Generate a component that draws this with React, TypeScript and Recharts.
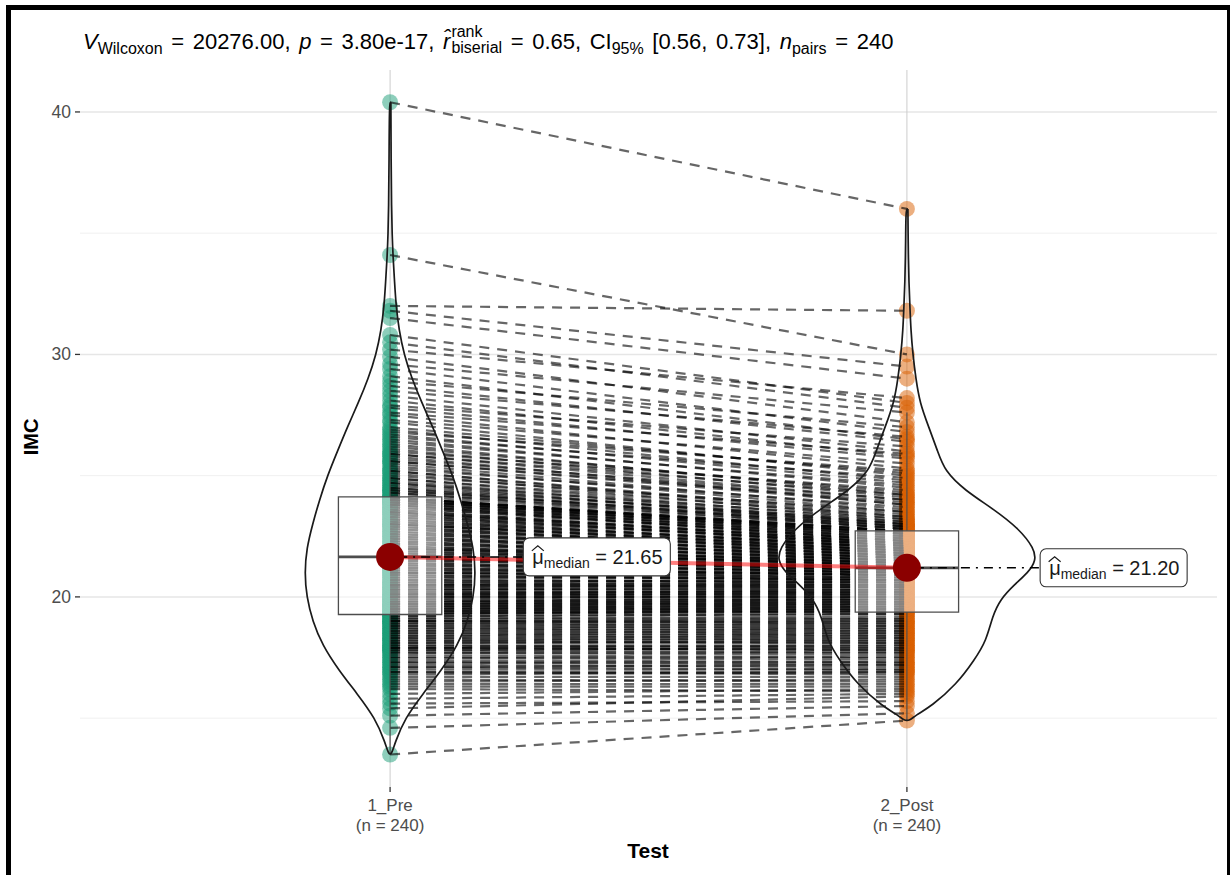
import React from 'react';
import { ComposedChart, Line, Scatter, XAxis, YAxis, CartesianGrid, ReferenceArea } from 'recharts';

const FONT = '"Liberation Sans", Arial, Helvetica, sans-serif';

const groups = ['1_Pre', '2_Post'];
const groupN = ['(n = 240)', '(n = 240)'];
const groupColors = ['#1B9E77', '#D95F02'];

// IMC values, Pre (sorted) and Post (paired with Pre by position)
const preIMC = [
  13.5, 14.6, 15.1, 15.4, 15.6, 15.8, 16.0, 16.2, 16.3, 16.4, 16.5, 16.6, 16.7, 16.8, 16.9, 16.9, 17.0, 17.1, 17.1, 17.2,
  17.3, 17.3, 17.4, 17.5, 17.5, 17.6, 17.7, 17.7, 17.8, 17.8, 17.9, 17.9, 17.9, 18.0, 18.0, 18.1, 18.1, 18.2, 18.2, 18.3,
  18.3, 18.4, 18.4, 18.5, 18.5, 18.6, 18.6, 18.7, 18.7, 18.8, 18.8, 18.9, 18.9, 19.0, 19.0, 19.0, 19.1, 19.1, 19.2, 19.2,
  19.3, 19.3, 19.3, 19.4, 19.4, 19.4, 19.5, 19.5, 19.5, 19.6, 19.6, 19.6, 19.7, 19.7, 19.7, 19.8, 19.8, 19.8, 19.9, 19.9,
  20.0, 20.0, 20.0, 20.1, 20.1, 20.1, 20.2, 20.2, 20.3, 20.3, 20.3, 20.4, 20.4, 20.5, 20.5, 20.5, 20.6, 20.6, 20.7, 20.7,
  20.8, 20.8, 20.9, 20.9, 21.0, 21.0, 21.0, 21.1, 21.1, 21.2, 21.2, 21.3, 21.3, 21.4, 21.4, 21.5, 21.5, 21.6, 21.6, 21.6,
  21.7, 21.7, 21.8, 21.8, 21.9, 21.9, 22.0, 22.0, 22.0, 22.1, 22.1, 22.2, 22.2, 22.3, 22.3, 22.4, 22.4, 22.5, 22.5, 22.6,
  22.6, 22.7, 22.7, 22.8, 22.8, 22.9, 22.9, 23.0, 23.0, 23.0, 23.1, 23.1, 23.2, 23.2, 23.3, 23.3, 23.4, 23.4, 23.5, 23.5,
  23.5, 23.6, 23.6, 23.7, 23.7, 23.8, 23.8, 23.8, 23.9, 23.9, 23.9, 24.0, 24.0, 24.0, 24.0, 24.1, 24.1, 24.1, 24.1, 24.1,
  24.2, 24.3, 24.3, 24.4, 24.4, 24.5, 24.5, 24.6, 24.7, 24.7, 24.8, 24.9, 24.9, 25.0, 25.1, 25.2, 25.2, 25.3, 25.4, 25.5,
  25.6, 25.6, 25.7, 25.8, 25.9, 25.9, 26.0, 26.1, 26.2, 26.3, 26.4, 26.5, 26.6, 26.7, 26.8, 26.9, 27.0, 27.2, 27.3, 27.5,
  27.6, 27.8, 27.9, 28.1, 28.3, 28.5, 28.7, 28.9, 29.1, 29.4, 29.6, 29.9, 30.2, 30.5, 30.8, 31.5, 31.8, 32.0, 34.1, 40.4,
];

const postIMC = [
  14.9, 15.2, 15.5, 15.9, 15.7, 16.0, 16.2, 16.1, 16.3, 16.4, 16.6, 16.5, 16.7, 16.9, 16.8, 16.9, 17.0, 17.2, 17.0, 17.1,
  17.3, 17.2, 17.3, 17.5, 17.4, 17.5, 17.7, 17.6, 17.7, 17.9, 17.8, 17.8, 18.0, 17.9, 18.0, 18.2, 18.1, 18.1, 18.3, 18.2,
  18.4, 18.3, 18.5, 18.4, 18.6, 18.5, 18.7, 18.6, 18.8, 18.7, 18.9, 18.8, 19.0, 18.9, 19.1, 19.0, 19.2, 19.1, 19.3, 19.3,
  19.4, 19.5, 19.4, 19.4, 19.6, 19.5, 19.5, 19.7, 19.6, 19.6, 19.8, 19.7, 19.7, 19.9, 19.8, 19.8, 20.0, 19.9, 19.9, 20.1,
  20.0, 20.0, 20.2, 20.1, 20.1, 20.3, 20.2, 20.2, 20.4, 20.3, 20.3, 20.5, 20.4, 20.4, 20.6, 20.5, 20.5, 20.7, 20.6, 20.6,
  20.8, 20.7, 20.7, 20.7, 20.9, 20.8, 20.8, 21.0, 20.9, 20.9, 20.9, 21.1, 21.0, 21.0, 21.0, 21.2, 21.1, 21.1, 21.1, 21.2,
  21.3, 21.2, 21.2, 21.4, 21.3, 21.3, 21.3, 21.5, 21.4, 21.4, 21.4, 21.6, 21.5, 21.5, 21.5, 21.7, 21.6, 21.6, 21.6, 21.8,
  21.7, 21.7, 21.7, 21.9, 21.8, 21.8, 21.8, 22.0, 21.9, 21.9, 21.9, 22.1, 22.0, 22.0, 22.0, 22.2, 22.1, 22.1, 22.1, 22.3,
  22.2, 22.2, 22.2, 22.4, 22.3, 22.3, 22.3, 22.5, 22.4, 22.4, 22.6, 22.5, 22.5, 22.7, 22.6, 22.6, 22.6, 22.7, 22.7, 22.7,
  22.8, 22.9, 22.8, 23.0, 22.9, 22.8, 23.1, 23.0, 22.9, 23.2, 23.0, 23.3, 23.1, 23.5, 23.2, 23.4, 23.3, 23.7, 23.5, 23.6,
  23.9, 23.8, 24.0, 23.8, 24.2, 24.0, 24.4, 24.1, 24.3, 24.2, 24.6, 24.5, 24.9, 24.7, 25.2, 24.8, 25.1, 25.0, 25.5, 25.3,
  25.9, 25.7, 26.2, 25.8, 26.0, 26.6, 26.4, 27.0, 26.5, 26.8, 27.6, 27.2, 28.2, 27.8, 28.0, 29.0, 29.5, 31.8, 30.0, 36.0,
];

// violin outlines: IMC level (top to bottom) and relative density
const preViolinY = [40.4, 38, 36, 35, 34, 33, 32, 31, 30, 29, 28, 27, 26, 25, 24, 23, 22, 21, 20, 19, 18, 17, 16, 15, 14, 13.5];
const preViolinDensity = [0.8, 1, 1.5, 2, 3, 4.5, 6, 9, 14, 22, 32, 43, 53, 63, 71, 78, 84, 86, 84, 78, 68, 52, 33, 15, 5, 1.5];
const postViolinY = [36.0, 35, 34, 33, 32, 31, 30, 29, 28, 27, 26, 25.2, 24.4, 23.6, 22.8, 22.0, 21.5, 21.0, 20.5, 19.9, 19.2, 18.2, 17.4, 16.4, 15.5, 15.1, 14.9];
const postViolinDensity = [1, 1.2, 1.5, 2, 3, 4, 6, 9, 13, 22, 31, 38, 58, 88, 113, 128, 130, 122, 108, 94, 86, 80, 68, 50, 25, 8, 3];

const yTicks = [15, 20, 25, 30, 35, 40];
const yLabelTicks = [20, 30, 40];
const xTicks = [1, 2];

function quantile(sorted: number[], p: number) {
  const h = (sorted.length - 1) * p;
  const lo = Math.floor(h);
  const hi = Math.ceil(h);
  return sorted[lo] + (h - lo) * (sorted[hi] - sorted[lo]);
}

function boxStats(arr: number[]) {
  const s = [...arr].sort((a, b) => a - b);
  const q1 = quantile(s, 0.25);
  const med = quantile(s, 0.5);
  const q3 = quantile(s, 0.75);
  const iqr = q3 - q1;
  const hiW = Math.max(...s.filter((v) => v <= q3 + 1.5 * iqr));
  const loW = Math.min(...s.filter((v) => v >= q1 - 1.5 * iqr));
  return { q1, med, q3, hiW, loW };
}

const stats = [boxStats(preIMC), boxStats(postIMC)];
const maxDensity = Math.max(...preViolinDensity, ...postViolinDensity);

function violinOutline(center: number, ys: number[], dens: number[]) {
  const hw = dens.map((d) => (d / maxDensity) * 0.25);
  const right = ys.map((y, i) => ({ x: center + hw[i], y }));
  const left = ys.map((y, i) => ({ x: center - hw[i], y })).reverse();
  return [...right, ...left, right[0]];
}

const violins = [violinOutline(1, preViolinY, preViolinDensity), violinOutline(2, postViolinY, postViolinDensity)];
const pairs = preIMC.map((v, i) => [{ x: 1, y: v }, { x: 2, y: postIMC[i] }]);
const prePoints = preIMC.map((v) => ({ x: 1, y: v }));
const postPoints = postIMC.map((v) => ({ x: 2, y: v }));
const medianPoints = stats.map((s, i) => ({ x: i + 1, y: s.med }));
const labelPoints = stats.map((s, i) => ({ x: i + 1.4, y: s.med, text: s.med.toFixed(2) }));

const XTick = (props: any) => {
  const { x, y, payload } = props;
  const i = payload.value === 1 ? 0 : 1;
  return (
    <text x={x} y={y} textAnchor="middle" fontFamily={FONT} fontSize={17} fill="#4D4D4D">
      <tspan x={x} dy={17}>{groups[i]}</tspan>
      <tspan x={x} dy={20}>{groupN[i]}</tspan>
    </text>
  );
};

const YTick = (props: any) => {
  const { x, y, payload } = props;
  if (!yLabelTicks.includes(payload.value)) return <g />;
  return (
    <g>
      <line x1={x + 4} x2={x + 9} y1={y} y2={y} stroke="#333" strokeWidth={1.3} />
      <text x={x} y={y} dy={6} textAnchor="end" fontFamily={FONT} fontSize={17.5} fill="#4D4D4D">
        {payload.value}
      </text>
    </g>
  );
};

const hGrid = (props: any) => {
  const { x1, x2, y1, y2, index } = props;
  const minor = index % 2 === 0;
  return (
    <line
      key={`h-${index}`}
      x1={x1}
      x2={x2}
      y1={y1}
      y2={y2}
      stroke={minor ? '#F0F0F0' : '#E6E6E6'}
      strokeWidth={minor ? 1 : 1.5}
    />
  );
};

const LabelShape = (props: any) => {
  const { cx, cy, payload } = props;
  const w = 147;
  const h = 38;
  const tx = cx - w / 2 + 9;
  return (
    <g>
      <rect x={cx - w / 2} y={cy - h / 2} width={w} height={h} rx={6} ry={6} fill="#fff" stroke="#333" strokeWidth={1.1} />
      <path d={`M${tx - 0.5},${cy - 6} L${tx + 5.5},${cy - 11} L${tx + 11.5},${cy - 6}`} fill="none" stroke="#1a1a1a" strokeWidth={1.2} />
      <text x={tx} y={cy + 7} fontFamily={FONT} fontSize={20} fill="#1a1a1a">
        {'\u03BC'}
        <tspan fontSize={14} dy={4}>median</tspan>
        <tspan dy={-4}>{' = ' + (payload?.text ?? '')}</tspan>
      </text>
    </g>
  );
};

const SUB: React.CSSProperties = { fontSize: 16, verticalAlign: '-5px', wordSpacing: 0 };

export default function App() {
  return (
    <div style={{ position: 'absolute', left: 0, top: 0, width: 1230, height: 875, background: '#fff', overflow: 'hidden', fontFamily: FONT }}>
      <ComposedChart width={1230} height={875} margin={{ top: 70, right: 13, bottom: 0, left: 20 }}>
        <CartesianGrid syncWithTicks horizontal={hGrid} vertical={{ stroke: '#EBEBEB', strokeWidth: 1.3 }} />
        <XAxis
          type="number"
          dataKey="x"
          domain={[0.4, 2.6]}
          allowDataOverflow
          ticks={xTicks}
          interval={0}
          height={88}
          axisLine={false}
          tickLine={{ stroke: '#333', strokeWidth: 1.3 }}
          tickSize={5}
          tick={<XTick />}
        />
        <YAxis
          type="number"
          dataKey="y"
          domain={[12.16, 41.73]}
          allowDataOverflow
          ticks={yTicks}
          interval={0}
          width={60}
          axisLine={false}
          tickLine={false}
          tickSize={5}
          tickMargin={4}
          tick={<YTick />}
        />
        <Scatter
          data={prePoints}
          isAnimationActive={false}
          zIndex={101}
          shape={(p: any) => <circle cx={p.cx} cy={p.cy} r={8} fill={groupColors[0]} fillOpacity={0.5} />}
        />
        <Scatter
          data={postPoints}
          isAnimationActive={false}
          zIndex={101}
          shape={(p: any) => <circle cx={p.cx} cy={p.cy} r={8} fill={groupColors[1]} fillOpacity={0.5} />}
        />
        {pairs.map((d, i) => (
          <Line
            key={`pair-${i}`}
            data={d}
            dataKey="y"
            type="linear"
            stroke="#000"
            strokeOpacity={0.6}
            strokeWidth={2.2}
            strokeDasharray="10 8"
            dot={false}
            activeDot={false}
            legendType="none"
            isAnimationActive={false}
            zIndex={102}
          />
        ))}
        {stats.map((s, i) => (
          <ReferenceArea
            key={`box-${i}`}
            x1={i + 0.9}
            x2={i + 1.1}
            y1={s.q1}
            y2={s.q3}
            fill="#fff"
            fillOpacity={0.5}
            stroke="#4D4D4D"
            strokeWidth={1.3}
            zIndex={103}
          />
        ))}
        {stats.map((s, i) => (
          <Line
            key={`med-${i}`}
            data={[{ x: i + 0.9, y: s.med }, { x: i + 1.1, y: s.med }]}
            dataKey="y"
            stroke="#4D4D4D"
            strokeWidth={2.8}
            dot={false}
            activeDot={false}
            legendType="none"
            isAnimationActive={false}
            zIndex={104}
          />
        ))}
        {stats.map((s, i) => (
          <Line
            key={`wu-${i}`}
            data={[{ x: i + 1, y: s.q3 }, { x: i + 1, y: s.hiW }]}
            dataKey="y"
            stroke="#4D4D4D"
            strokeWidth={1.2}
            dot={false}
            activeDot={false}
            legendType="none"
            isAnimationActive={false}
            zIndex={104}
          />
        ))}
        {stats.map((s, i) => (
          <Line
            key={`wl-${i}`}
            data={[{ x: i + 1, y: s.q1 }, { x: i + 1, y: s.loW }]}
            dataKey="y"
            stroke="#4D4D4D"
            strokeWidth={1.2}
            dot={false}
            activeDot={false}
            legendType="none"
            isAnimationActive={false}
            zIndex={104}
          />
        ))}
        {violins.map((d, i) => (
          <Line
            key={`violin-${i}`}
            data={d}
            dataKey="y"
            type="basis"
            stroke="#1a1a1a"
            strokeWidth={1.7}
            dot={false}
            activeDot={false}
            legendType="none"
            isAnimationActive={false}
            zIndex={105}
          />
        ))}
        <Line
          data={medianPoints}
          dataKey="y"
          type="linear"
          stroke="#FF0000"
          strokeOpacity={0.5}
          strokeWidth={4}
          dot={false}
          activeDot={false}
          legendType="none"
          isAnimationActive={false}
          zIndex={106}
        />
        {stats.map((s, i) => (
          <Line
            key={`seg-${i}`}
            data={[{ x: i + 1, y: s.med }, { x: i + 1.4, y: s.med }]}
            dataKey="y"
            stroke="#000"
            strokeWidth={1.5}
            strokeDasharray="2 6 9 6"
            dot={false}
            activeDot={false}
            legendType="none"
            isAnimationActive={false}
            zIndex={107}
          />
        ))}
        <Scatter
          data={medianPoints}
          isAnimationActive={false}
          zIndex={108}
          shape={(p: any) => <circle cx={p.cx} cy={p.cy} r={14} fill="#8B0000" />}
        />
        <Scatter data={labelPoints} isAnimationActive={false} zIndex={109} shape={<LabelShape />} />
      </ComposedChart>

      <div style={{ position: 'absolute', left: 83, top: 24, lineHeight: '30px', fontSize: 22, wordSpacing: '2.5px', whiteSpace: 'nowrap', color: '#000' }}>
        <i>V</i><span style={SUB}>Wilcoxon</span>{' = 20276.00, '}<i>p</i>{' = 3.80e-17, '}<i>{'r\u0302'}</i>
        <span style={{ display: 'inline-block', verticalAlign: '-4px', fontSize: 16, lineHeight: '16px', marginLeft: 1 }}>
          <span style={{ display: 'block' }}>rank</span>
          <span style={{ display: 'block' }}>biserial</span>
        </span>
        {' = 0.65, CI'}<span style={SUB}>95%</span>{' [0.56, 0.73], '}<i>n</i><span style={SUB}>pairs</span>{' = 240'}
      </div>

      <div style={{ position: 'absolute', left: 31, top: 437, transform: 'translate(-50%, -50%) rotate(-90deg)', fontWeight: 'bold', fontSize: 20, color: '#000', whiteSpace: 'nowrap' }}>
        IMC
      </div>
      <div style={{ position: 'absolute', left: 648, top: 851, transform: 'translate(-50%, -50%)', fontWeight: 'bold', fontSize: 21, color: '#000', whiteSpace: 'nowrap' }}>
        Test
      </div>
      <div style={{ position: 'absolute', left: 6, top: 5, width: 1226, height: 880, border: '5px solid #000', boxSizing: 'border-box', pointerEvents: 'none' }} />
    </div>
  );
}
